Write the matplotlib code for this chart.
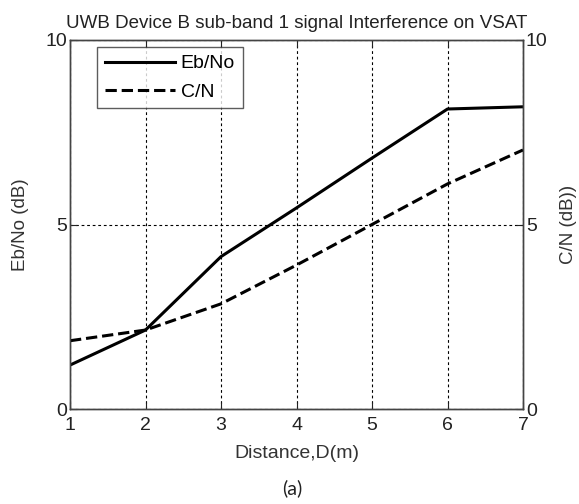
import numpy as np
import matplotlib.pyplot as plt

plt.rcParams['font.family'] = ['Liberation Sans', 'DejaVu Sans']

# Data
distance = [1, 2, 3, 4, 5, 6, 7]
eb_no = [1.19, 2.14, 4.13, 5.45, 6.8, 8.13, 8.19]
c_n = [1.85, 2.14, 2.85, 3.9, 5.0, 6.1, 7.02]

fig = plt.figure(figsize=(5.79, 5.04), dpi=100)
ax = fig.add_axes([70 / 579, 1 - 409 / 504, 453 / 579, 369 / 504])
ax2 = ax.twinx()

l1, = ax.plot(distance, eb_no, 'k-', lw=2.2, label='Eb/No')
l2, = ax2.plot(distance, c_n, 'k--', lw=2.2, label='C/N')

for a in (ax, ax2):
    a.set_xlim(1, 7)
    a.set_ylim(0, 10)
    a.set_yticks([0, 5, 10])
    for s in a.spines.values():
        s.set_color('#444444')
        s.set_linewidth(1)

ax.set_xticks(distance)
ax.grid(True, color='k', linestyle=(0, (2.5, 2.5)), linewidth=0.8)
ax.tick_params(direction='in', top=True, labelsize=14, length=5, colors='#222222', pad=2)
ax.tick_params(axis='x', pad=6)
ax2.tick_params(direction='in', labelsize=14, length=5, colors='#222222', pad=2)

ax.set_xlabel('Distance,D(m)', fontsize=14, color='#333333', labelpad=8)
ax.set_ylabel('Eb/No (dB)', fontsize=13.5, color='#333333', labelpad=12)
ax2.set_ylabel('C/N (dB))', fontsize=13.5, color='#333333', labelpad=9)
ax.set_title('UWB Device B sub-band 1 signal Interference on VSAT', fontsize=13.5,
             color='#222222', pad=9)

leg = ax.legend([l1, l2], ['Eb/No', 'C/N'], loc='upper left',
                bbox_to_anchor=(0.06, 0.981), borderaxespad=0, fancybox=False,
                edgecolor='#333333', fontsize=14, handlelength=3.6, borderpad=0.4,
                labelspacing=0.55, handletextpad=0.3)
leg.get_frame().set_linewidth(1)

fig.text(0.505, 0.02, '(a)', ha='center', fontsize=14, color='#222222',
         family=['Lato', 'DejaVu Sans'])

plt.savefig('out.png')
